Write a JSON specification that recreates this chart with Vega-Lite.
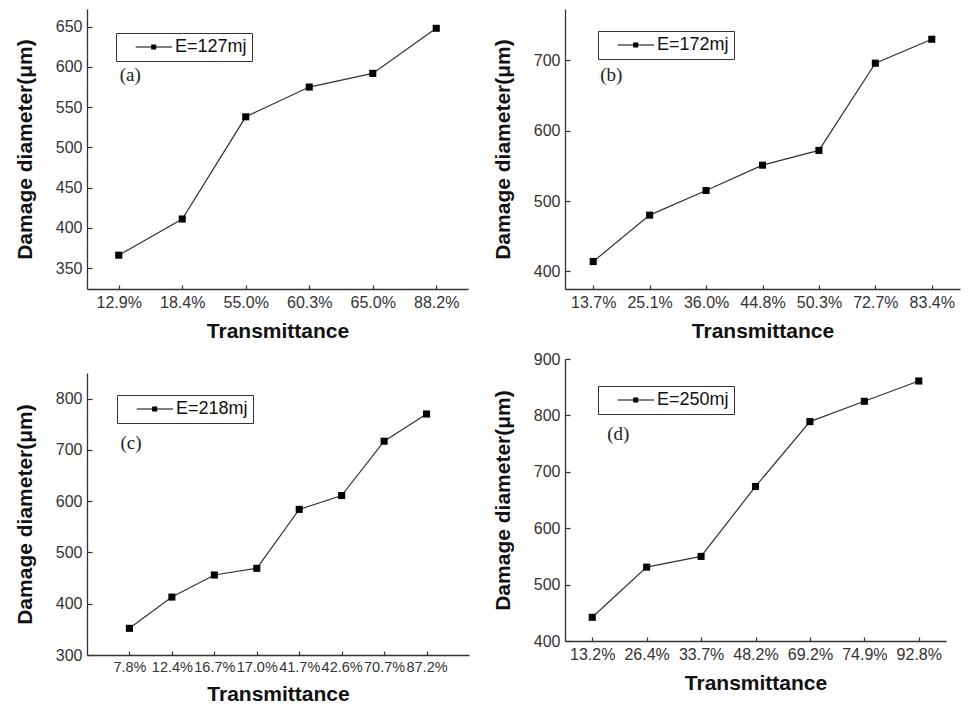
{
  "$schema": "https://vega.github.io/schema/vega-lite/v6.json",
  "background": "white",
  "padding": {"left": 14, "top": 9, "right": 5, "bottom": 0},
  "datasets": {
    "a": [
      {"t": "12.9%", "d": 366, "E": "E=127mj", "lab": "(a)"},
      {"t": "18.4%", "d": 411, "E": "E=127mj"},
      {"t": "55.0%", "d": 538, "E": "E=127mj"},
      {"t": "60.3%", "d": 575, "E": "E=127mj"},
      {"t": "65.0%", "d": 592, "E": "E=127mj"},
      {"t": "88.2%", "d": 648, "E": "E=127mj"}
    ],
    "b": [
      {"t": "13.7%", "d": 414, "E": "E=172mj", "lab": "(b)"},
      {"t": "25.1%", "d": 480, "E": "E=172mj"},
      {"t": "36.0%", "d": 515, "E": "E=172mj"},
      {"t": "44.8%", "d": 551, "E": "E=172mj"},
      {"t": "50.3%", "d": 572, "E": "E=172mj"},
      {"t": "72.7%", "d": 696, "E": "E=172mj"},
      {"t": "83.4%", "d": 730, "E": "E=172mj"}
    ],
    "c": [
      {"t": "7.8%", "d": 352, "E": "E=218mj", "lab": "(c)"},
      {"t": "12.4%", "d": 413, "E": "E=218mj"},
      {"t": "16.7%", "d": 456, "E": "E=218mj"},
      {"t": "17.0%", "d": 469, "E": "E=218mj"},
      {"t": "41.7%", "d": 584, "E": "E=218mj"},
      {"t": "42.6%", "d": 611, "E": "E=218mj"},
      {"t": "70.7%", "d": 717, "E": "E=218mj"},
      {"t": "87.2%", "d": 770, "E": "E=218mj"}
    ],
    "d": [
      {"t": "13.2%", "d": 442, "E": "E=250mj", "lab": "(d)"},
      {"t": "26.4%", "d": 531, "E": "E=250mj"},
      {"t": "33.7%", "d": 550, "E": "E=250mj"},
      {"t": "48.2%", "d": 674, "E": "E=250mj"},
      {"t": "69.2%", "d": 789, "E": "E=250mj"},
      {"t": "74.9%", "d": 825, "E": "E=250mj"},
      {"t": "92.8%", "d": 861, "E": "E=250mj"}
    ]
  },
  "spacing": 23,
  "hconcat": [
    {
      "bounds": "flush",
      "spacing": 84,
      "resolve": {"scale": {"color": "independent"}, "legend": {"color": "independent"}},
      "vconcat": [
        {
          "width": 381, "height": 280,
          "layer": [
            {"data": {"name": "a"}, "mark": {"type": "line", "color": "#333", "strokeWidth": 1.2},
             "encoding": {
               "x": {"field": "t", "type": "ordinal", "sort": null, "scale": {"type": "point", "padding": 0.5}, "axis": {"title": "Transmittance"}},
               "y": {"field": "d", "type": "quantitative", "scale": {"domain": [324, 672], "nice": false, "zero": false},
                     "axis": {"title": "Damage diameter(μm)", "values": [350,375,400,425,450,475,500,525,550,575,600,625,650],
                              "labelExpr": "datum.value % 50 == 0 ? datum.label : ''",
                              "tickSize": {"condition": {"test": "datum.value % 50 == 0", "value": -5}, "value": -3}}}}},
            {"data": {"name": "a"}, "mark": {"type": "point", "shape": "square", "filled": true, "size": 50, "opacity": 1},
             "encoding": {
               "x": {"field": "t", "type": "ordinal", "sort": null},
               "y": {"field": "d", "type": "quantitative"},
               "color": {"field": "E", "type": "nominal", "scale": {"range": ["black"]},
                         "legend": {"orient": "none", "legendX": 29, "legendY": 24, "title": null, "strokeColor": "#333", "fillColor": "white", "padding": 5,
                                    "symbolType": "M0.95,-0.09H7V0.09H0.95ZM3.53,-0.42H4.37V0.42H3.53Z", "symbolSize": 144, "labelOffset": 36,
                                    "symbolFillColor": "black", "symbolStrokeWidth": 0,
                                    "labelFont": "Liberation Sans", "labelFontSize": 18, "labelColor": "#111"}}}},
            {"data": {"name": "a"}, "transform": [{"filter": "datum.lab"}],
             "mark": {"type": "text", "align": "left", "baseline": "middle", "font": "Liberation Serif", "fontSize": 19, "color": "#222", "dx": 1},
             "encoding": {"x": {"field": "t", "type": "ordinal", "sort": null}, "y": {"datum": 590}, "text": {"field": "lab"}}}
          ]
        },
        {
          "width": 382, "height": 282,
          "layer": [
            {"data": {"name": "c"}, "mark": {"type": "line", "color": "#333", "strokeWidth": 1.2},
             "encoding": {
               "x": {"field": "t", "type": "ordinal", "sort": null, "scale": {"type": "point", "padding": 1}, "axis": {"title": "Transmittance", "labelFontSize": 14.5}},
               "y": {"field": "d", "type": "quantitative", "scale": {"domain": [300, 850], "nice": false, "zero": false},
                     "axis": {"title": "Damage diameter(μm)", "values": [300,350,400,450,500,550,600,650,700,750,800,850],
                              "labelExpr": "datum.value % 100 == 0 ? datum.label : ''",
                              "tickSize": {"condition": {"test": "datum.value % 100 == 0", "value": -5}, "value": -3}}}}},
            {"data": {"name": "c"}, "mark": {"type": "point", "shape": "square", "filled": true, "size": 50, "opacity": 1},
             "encoding": {
               "x": {"field": "t", "type": "ordinal", "sort": null},
               "y": {"field": "d", "type": "quantitative"},
               "color": {"field": "E", "type": "nominal", "scale": {"range": ["black"]},
                         "legend": {"orient": "none", "legendX": 30, "legendY": 22, "title": null, "strokeColor": "#333", "fillColor": "white", "padding": 5,
                                    "symbolType": "M0.95,-0.09H7V0.09H0.95ZM3.53,-0.42H4.37V0.42H3.53Z", "symbolSize": 144, "labelOffset": 36,
                                    "symbolFillColor": "black", "symbolStrokeWidth": 0,
                                    "labelFont": "Liberation Sans", "labelFontSize": 18, "labelColor": "#111"}}}},
            {"data": {"name": "c"}, "transform": [{"filter": "datum.lab"}],
             "mark": {"type": "text", "align": "left", "baseline": "middle", "font": "Liberation Serif", "fontSize": 19, "color": "#222", "dx": -9},
             "encoding": {"x": {"field": "t", "type": "ordinal", "sort": null}, "y": {"datum": 713}, "text": {"field": "lab"}}}
          ]
        }
      ]
    },
    {
      "bounds": "flush",
      "spacing": 70,
      "resolve": {"scale": {"color": "independent"}, "legend": {"color": "independent"}},
      "vconcat": [
        {
          "width": 395, "height": 280,
          "layer": [
            {"data": {"name": "b"}, "mark": {"type": "line", "color": "#333", "strokeWidth": 1.2},
             "encoding": {
               "x": {"field": "t", "type": "ordinal", "sort": null, "scale": {"type": "point", "padding": 0.5}, "axis": {"title": "Transmittance"}},
               "y": {"field": "d", "type": "quantitative", "scale": {"domain": [375, 773], "nice": false, "zero": false},
                     "axis": {"title": "Damage diameter(μm)", "values": [400,425,450,475,500,525,550,575,600,625,650,675,700,725,750],
                              "labelExpr": "datum.value % 50 == 0 ? datum.label : ''",
                              "tickSize": {"condition": {"test": "datum.value % 50 == 0", "value": -5}, "value": -3}}}}},
            {"data": {"name": "b"}, "mark": {"type": "point", "shape": "square", "filled": true, "size": 50, "opacity": 1},
             "encoding": {
               "x": {"field": "t", "type": "ordinal", "sort": null},
               "y": {"field": "d", "type": "quantitative"},
               "color": {"field": "E", "type": "nominal", "scale": {"range": ["black"]},
                         "legend": {"orient": "none", "legendX": 33, "legendY": 22, "title": null, "strokeColor": "#333", "fillColor": "white", "padding": 5,
                                    "symbolType": "M0.95,-0.09H7V0.09H0.95ZM3.53,-0.42H4.37V0.42H3.53Z", "symbolSize": 144, "labelOffset": 36,
                                    "symbolFillColor": "black", "symbolStrokeWidth": 0,
                                    "labelFont": "Liberation Sans", "labelFontSize": 18, "labelColor": "#111"}}}},
            {"data": {"name": "b"}, "transform": [{"filter": "datum.lab"}],
             "mark": {"type": "text", "align": "left", "baseline": "middle", "font": "Liberation Serif", "fontSize": 19, "color": "#222", "dx": 7},
             "encoding": {"x": {"field": "t", "type": "ordinal", "sort": null}, "y": {"datum": 679}, "text": {"field": "lab"}}}
          ]
        },
        {
          "width": 381, "height": 282,
          "layer": [
            {"data": {"name": "d"}, "mark": {"type": "line", "color": "#333", "strokeWidth": 1.2},
             "encoding": {
               "x": {"field": "t", "type": "ordinal", "sort": null, "scale": {"type": "point", "padding": 0.5}, "axis": {"title": "Transmittance"}},
               "y": {"field": "d", "type": "quantitative", "scale": {"domain": [400, 900], "nice": false, "zero": false},
                     "axis": {"title": "Damage diameter(μm)", "values": [400,450,500,550,600,650,700,750,800,850,900],
                              "labelExpr": "datum.value % 100 == 0 ? datum.label : ''",
                              "tickSize": {"condition": {"test": "datum.value % 100 == 0", "value": -5}, "value": -3}}}}},
            {"data": {"name": "d"}, "mark": {"type": "point", "shape": "square", "filled": true, "size": 50, "opacity": 1},
             "encoding": {
               "x": {"field": "t", "type": "ordinal", "sort": null},
               "y": {"field": "d", "type": "quantitative"},
               "color": {"field": "E", "type": "nominal", "scale": {"range": ["black"]},
                         "legend": {"orient": "none", "legendX": 33, "legendY": 27, "title": null, "strokeColor": "#333", "fillColor": "white", "padding": 5,
                                    "symbolType": "M0.95,-0.09H7V0.09H0.95ZM3.53,-0.42H4.37V0.42H3.53Z", "symbolSize": 144, "labelOffset": 36,
                                    "symbolFillColor": "black", "symbolStrokeWidth": 0,
                                    "labelFont": "Liberation Sans", "labelFontSize": 18, "labelColor": "#111"}}}},
            {"data": {"name": "d"}, "transform": [{"filter": "datum.lab"}],
             "mark": {"type": "text", "align": "left", "baseline": "middle", "font": "Liberation Serif", "fontSize": 19, "color": "#222", "dx": 15},
             "encoding": {"x": {"field": "t", "type": "ordinal", "sort": null}, "y": {"datum": 767}, "text": {"field": "lab"}}}
          ]
        }
      ]
    }
  ],
  "resolve": {"scale": {"color": "independent"}, "legend": {"color": "independent"}},
  "config": {
    "view": {"stroke": null},
    "font": "Liberation Sans",
    "axis": {"grid": false, "domainColor": "#333", "domainWidth": 1.3, "tickColor": "#333", "tickWidth": 1.2,
             "labelFont": "Liberation Sans", "labelFontSize": 16, "labelColor": "#333",
             "titleFont": "Liberation Sans", "titleFontSize": 21, "titleFontWeight": "bold", "titleColor": "#111"},
    "axisX": {"labelAngle": 0, "tickSize": -4, "labelPadding": 9, "titlePadding": 10, "labelOverlap": false, "labelFlush": false},
    "axisY": {"labelPadding": 10, "titlePadding": 20}
  }
}
